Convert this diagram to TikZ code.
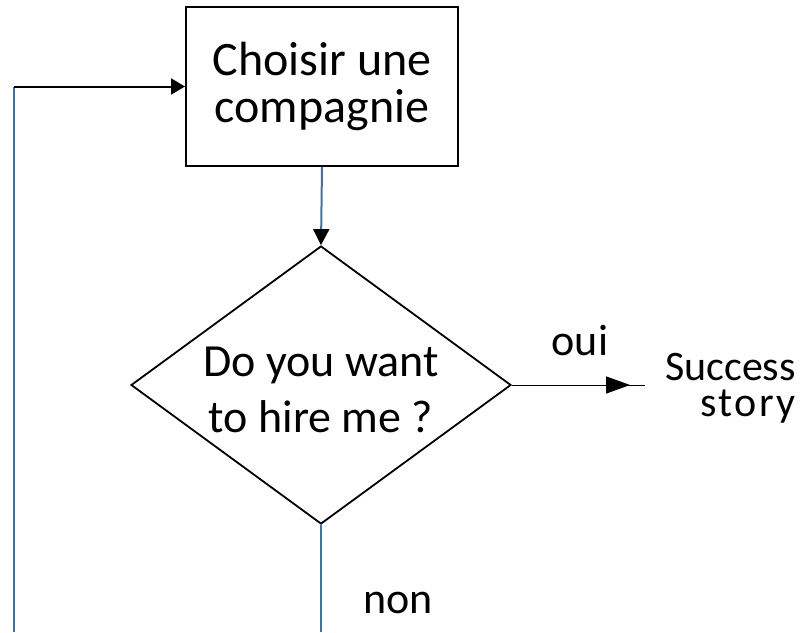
\documentclass[tikz,border=0pt]{standalone}
\usepackage{fontspec}
\setmainfont{Carlito}
\usetikzlibrary{calc}
\usetikzlibrary{shapes.geometric}
\usetikzlibrary{arrows.meta}
\usetikzlibrary{decorations.markings}
\definecolor{lienbleu}{RGB}{65,113,156}

\begin{document}
\begin{tikzpicture}[x=1pt, y=-1pt,
  boite/.style={draw, line width=2pt, minimum width=272pt, minimum height=159pt, inner sep=0pt, align=center, font=\fontsize{48}{47}\selectfont},
  losange/.style={draw, shape=diamond, line width=1.8pt, minimum width=380pt, minimum height=278pt, inner sep=0pt},
  bleu/.style={draw=lienbleu, line width=2pt},
  etiq/.style={font=\fontsize{44}{50}\selectfont, anchor=base}]

\useasboundingbox (0, 0) rectangle (802, 632);

\node[boite] (choix) at (322, 86.5) {Choisir une\\compagnie};
\node[losange] (q) at (321, 385) {};
\node[font=\fontsize{46}{56}\selectfont, align=center] (qtexte) at (321, 390) {Do you want\\to hire me ?};

\coordinate (fin) at (645, 385);
\coordinate (bas) at (321, 632);
\coordinate (gbas) at (14, 632);
\coordinate (ghaut) at (gbas |- choix.west);

\draw[bleu, -{Triangle[length=16pt, width=16pt, color=black]}] (choix.south) -- (q.north);
\draw[line width=1pt, postaction={decorate},
  decoration={markings, mark=at position 0.888 with {\arrow{Triangle[length=24pt, width=17pt]}}}]
  (q.east) -- (fin);
\draw[bleu] (q.south) -- (bas);
\draw[bleu] (gbas) -- (ghaut);
\draw[line width=2pt, -{Triangle[length=14pt, width=16pt]}] (ghaut) -- (choix.west);

\node[etiq] (oui) at (580, 355) {oui};
\node[font=\fontsize{42}{36}\selectfont, align=right, inner sep=0pt, anchor=east] (succes) at (796, 388.5) {Success\\{\addfontfeature{LetterSpace=6}story}};
\node[etiq] (non) at (398, 613) {non};

\end{tikzpicture}
\end{document}
